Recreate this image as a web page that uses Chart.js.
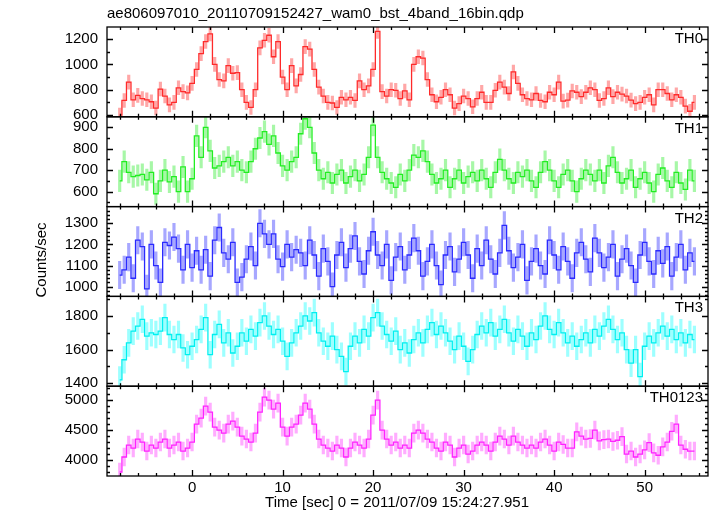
<!DOCTYPE html>
<html><head><meta charset="utf-8">
<script src="https://cdn.jsdelivr.net/npm/chart.js@4.4.1/dist/chart.umd.min.js"></script>
<style>html,body{margin:0;padding:0;background:#fff;} canvas{display:block;}</style>
</head><body>
<canvas id="c" width="717" height="516"></canvas>
<script>
// ---- data (bin centres in seconds, 0.5 s bins) ----
const timeSec = [
 -8.0,-7.5,-7.0,-6.5,-6.0,-5.5,-5.0,-4.5,-4.0,-3.5,
 -3.0,-2.5,-2.0,-1.5,-1.0,-0.5,0.0,0.5,1.0,1.5,
 2.0,2.5,3.0,3.5,4.0,4.5,5.0,5.5,6.0,6.5,
 7.0,7.5,8.0,8.5,9.0,9.5,10.0,10.5,11.0,11.5,
 12.0,12.5,13.0,13.5,14.0,14.5,15.0,15.5,16.0,16.5,
 17.0,17.5,18.0,18.5,19.0,19.5,20.0,20.5,21.0,21.5,
 22.0,22.5,23.0,23.5,24.0,24.5,25.0,25.5,26.0,26.5,
 27.0,27.5,28.0,28.5,29.0,29.5,30.0,30.5,31.0,31.5,
 32.0,32.5,33.0,33.5,34.0,34.5,35.0,35.5,36.0,36.5,
 37.0,37.5,38.0,38.5,39.0,39.5,40.0,40.5,41.0,41.5,
 42.0,42.5,43.0,43.5,44.0,44.5,45.0,45.5,46.0,46.5,
 47.0,47.5,48.0,48.5,49.0,49.5,50.0,50.5,51.0,51.5,
 52.0,52.5,53.0,53.5,54.0,54.5,55.0,55.5
];
const rateTH0 = [
 600,715,860,720,755,730,720,705,655,805,
 750,680,700,815,785,775,850,960,1085,1180,
 1240,1000,880,870,990,930,935,800,700,660,
 800,1130,1190,1230,1060,1180,900,800,990,830,
 920,1140,1120,960,820,750,700,695,660,740,
 720,740,715,870,800,830,960,1260,785,750,
 800,795,730,790,720,1000,1060,1050,880,760,
 705,740,800,760,655,690,750,730,665,730,
 780,700,700,795,860,820,770,940,850,760,
 730,720,770,715,705,780,760,860,710,718,
 790,780,745,780,815,800,715,730,815,745,
 780,765,750,718,690,700,740,760,680,800,
 800,770,720,760,740,670,630,700
];
const rateTH1 = [
 650,740,690,670,675,680,655,690,590,650,
 700,645,670,600,715,600,660,860,760,900,
 790,710,720,740,760,720,740,700,690,740,
 800,850,880,820,860,780,720,700,740,760,
 870,940,900,780,700,660,690,640,680,700,
 640,670,700,650,680,760,910,760,690,660,
 640,620,680,650,700,770,760,790,740,680,
 640,660,700,620,660,700,640,670,690,650,
 700,660,620,690,750,700,660,640,690,670,
 700,650,620,690,740,700,650,620,680,700,
 650,600,660,700,680,650,700,640,720,760,
 690,640,660,700,620,660,690,640,600,680,
 710,650,620,690,640,610,700,650
];
const rateTH2 = [
 1055,1080,1140,1040,1220,1190,990,1200,1100,1020,
 1210,1195,1235,1180,1080,1200,1090,1170,1080,1175,
 1050,1220,1280,1160,1130,1210,1020,1045,1130,1190,
 1100,1300,1250,1200,1250,1130,1095,1200,1140,1175,
 1160,1100,1220,1150,1050,1180,1120,1000,1150,1210,
 1090,1180,1240,1120,1060,1170,1260,1150,1100,1200,
 1030,1140,1190,1080,1150,1230,1170,1050,1120,1200,
 1100,1010,1150,1190,1070,1130,1210,1150,1040,1180,
 1100,1220,1130,1060,1160,1290,1170,1090,1140,1200,
 1030,1120,1180,1100,1060,1220,1150,1080,1190,1120,
 1040,1160,1210,1130,1070,1230,1160,1090,1140,1200,
 1050,1130,1180,1100,1020,1150,1210,1120,1060,1170,
 1110,1190,1050,1140,1200,1080,1160,1120
];
const rateTH3 = [
 1420,1540,1640,1710,1740,1780,1680,1700,1690,1710,
 1790,1690,1660,1690,1610,1570,1620,1660,1720,1790,
 1570,1690,1750,1640,1700,1580,1620,1700,1650,1720,
 1680,1760,1800,1740,1690,1720,1650,1560,1640,1700,
 1740,1800,1770,1820,1700,1650,1620,1680,1600,1560,
 1470,1620,1680,1640,1720,1680,1790,1820,1740,1690,
 1650,1710,1600,1640,1580,1660,1700,1640,1720,1760,
 1690,1740,1700,1650,1600,1680,1620,1530,1600,1690,
 1740,1700,1760,1680,1720,1780,1700,1650,1720,1680,
 1620,1700,1660,1740,1800,1720,1690,1760,1700,1640,
 1680,1620,1660,1700,1640,1720,1680,1740,1780,1720,
 1660,1700,1600,1520,1600,1440,1620,1680,1640,1700,
 1740,1680,1720,1660,1700,1640,1690,1660
];
const rateTH0123 = [
 3800,4050,4250,4200,4350,4300,4150,4250,4200,4300,
 4350,4200,4250,4300,4150,4200,4300,4600,4700,4900,
 4800,4550,4500,4450,4600,4650,4550,4400,4350,4300,
 4450,4800,5050,5000,4850,4950,4550,4400,4550,4600,
 4750,4950,4850,4600,4350,4250,4200,4150,4250,4200,
 4050,4200,4300,4250,4200,4350,4750,5000,4500,4350,
 4250,4300,4200,4250,4200,4450,4500,4450,4350,4300,
 4200,4150,4300,4250,4050,4200,4250,4100,4150,4250,
 4300,4250,4150,4300,4400,4350,4250,4400,4300,4250,
 4200,4250,4200,4300,4350,4250,4150,4300,4260,4200,
 4200,4470,4400,4350,4360,4500,4320,4340,4350,4310,
 4330,4390,4100,4150,4050,4100,4170,4290,4120,4080,
 4220,4300,4480,4600,4250,4180,4150,4150
];
// 1-sigma error half-widths (counts/sec) per band
const errTH0 = 55, errTH1 = 50, errTH2 = 65, errTH3 = 80, errTH0123 = 150;
// tick labels
const xTickValues = [0, 10, 20, 30, 40, 50];
const yTicksTH0 = [600, 800, 1000, 1200];
const yTicksTH1 = [600, 700, 800, 900];
const yTicksTH2 = [1000, 1100, 1200, 1300];
const yTicksTH3 = [1400, 1600, 1800];
const yTicksTH0123 = [4000, 4500, 5000];
const bandNames = ['TH0', 'TH1', 'TH2', 'TH3', 'TH0123'];
const chartTitle = 'ae806097010_20110709152427_wam0_bst_4band_16bin.qdp';
const xTitle = 'Time [sec] 0 = 2011/07/09 15:24:27.951';
const yTitle = 'Counts/sec';

// ---- styling / panel setup ----
const panels = [
  {name: bandNames[0], rate: rateTH0, err: errTH0, ticks: yTicksTH0, minor: 100, min: 586, max: 1295, line: '#ff2a2a', bar: 'rgba(255,80,80,0.5)'},
  {name: bandNames[1], rate: rateTH1, err: errTH1, ticks: yTicksTH1, minor: 50, min: 530, max: 949, line: '#22ee22', bar: 'rgba(80,240,80,0.5)'},
  {name: bandNames[2], rate: rateTH2, err: errTH2, ticks: yTicksTH2, minor: 20, min: 954, max: 1379, line: '#2a2aff', bar: 'rgba(80,80,255,0.5)'},
  {name: bandNames[3], rate: rateTH3, err: errTH3, ticks: yTicksTH3, minor: 100, min: 1383, max: 1916, line: '#00f0f0', bar: 'rgba(60,255,255,0.5)'},
  {name: bandNames[4], rate: rateTH0123, err: errTH0123, ticks: yTicksTH0123, minor: 100, min: 3733, max: 5233, line: '#ff22ff', bar: 'rgba(255,90,255,0.5)'}
];

Chart.defaults.font.family = "'Liberation Sans', Arial, sans-serif";
Chart.defaults.font.size = 15;
Chart.defaults.color = '#000';

const datasets = [];
const scales = {
  x: {
    type: 'linear', min: -9.4, max: 57.0, offset: false,
    grid: {display: false, drawTicks: false}, border: {display: false},
    afterBuildTicks: s => { s.ticks = xTickValues.map(v => ({value: v})); },
    afterFit: s => { s.height = 40; },
    ticks: {padding: 3, autoSkip: false, maxRotation: 0, color: '#000', callback: v => String(v)}
  }
};
// stacked y axes: defined bottom panel first so TH0 ends up on top
for (let i = panels.length - 1; i >= 0; i--) {
  const p = panels[i];
  scales['y' + i] = {
    type: 'linear', position: 'left', stack: 'panels', stackWeight: 1,
    min: p.min, max: p.max,
    grid: {display: false, drawTicks: false}, border: {display: false},
    afterBuildTicks: s => { s.ticks = p.ticks.map(v => ({value: v})); },
    afterFit: s => { s.width = 107; },
    ticks: {padding: 9, autoSkip: false, color: '#000', callback: v => String(v)}
  };
}
panels.forEach((p, i) => {
  const id = 'y' + i;
  datasets.push({
    type: 'line', label: p.name, yAxisID: id, xAxisID: 'x',
    data: timeSec.map((t, k) => ({x: t, y: p.rate[k]})),
    borderColor: p.line, borderWidth: 1.3, pointRadius: 0, stepped: 'middle', fill: false, order: 1
  });
  datasets.push({
    type: 'bar', label: p.name + ' err', yAxisID: id, xAxisID: 'x',
    data: timeSec.map((t, k) => ({x: t, y: [p.rate[k] - p.err, p.rate[k] + p.err]})),
    backgroundColor: p.bar, borderWidth: 0, barThickness: 2.5, grouped: false, order: 2
  });
});

const framePlugin = {
  id: 'qdpFrame',
  afterDatasetsDraw(chart) {
    const ctx = chart.ctx;
    const xs = chart.scales.x;
    ctx.save();
    ctx.strokeStyle = '#000';
    ctx.lineWidth = 1.3;
    panels.forEach((p, i) => {
      const ys = chart.scales['y' + i];
      const L = xs.left, R = xs.right, T = ys.top, B = ys.bottom;
      ctx.strokeRect(L, T, R - L, B - T);
      ctx.beginPath();
      for (let v = Math.ceil(xs.min / 2) * 2; v <= xs.max; v += 2) {
        const px = Math.round(xs.getPixelForValue(v)) + 0.5;
        const len = (v % 10 === 0) ? 6 : 3;
        ctx.moveTo(px, B); ctx.lineTo(px, B - len);
        ctx.moveTo(px, T); ctx.lineTo(px, T + len);
      }
      const step = p.minor;
      for (let v = Math.ceil(ys.min / step) * step; v <= ys.max; v += step) {
        const py = Math.round(ys.getPixelForValue(v)) + 0.5;
        const len = p.ticks.includes(v) ? 6 : 3;
        ctx.moveTo(L, py); ctx.lineTo(L + len, py);
        ctx.moveTo(R, py); ctx.lineTo(R - len, py);
      }
      ctx.stroke();
      ctx.fillStyle = '#000';
      ctx.font = "15px 'Liberation Sans', Arial, sans-serif";
      ctx.textAlign = 'right';
      ctx.textBaseline = 'alphabetic';
      ctx.fillText(p.name, R - 5, T + 16);
    });
    // axis titles
    ctx.textAlign = 'center';
    ctx.textBaseline = 'middle';
    ctx.fillText(xTitle, 397, 503);
    ctx.translate(42, 260);
    ctx.rotate(-Math.PI / 2);
    ctx.fillText(yTitle, 0, 0);
    ctx.restore();
  }
};

new Chart(document.getElementById('c'), {
  type: 'line',
  data: {datasets},
  options: {
    responsive: false, animation: false, devicePixelRatio: 1,
    layout: {padding: {left: 0, right: 9, top: 0, bottom: 0}},
    plugins: {
      legend: {display: false}, tooltip: {enabled: false},
      title: {display: true, text: chartTitle, align: 'start', fullSize: false,
              font: {size: 15, weight: 'normal'}, color: '#000', padding: {top: 5, bottom: 4}}
    },
    scales
  },
  plugins: [framePlugin]
});
</script>
</body></html>
